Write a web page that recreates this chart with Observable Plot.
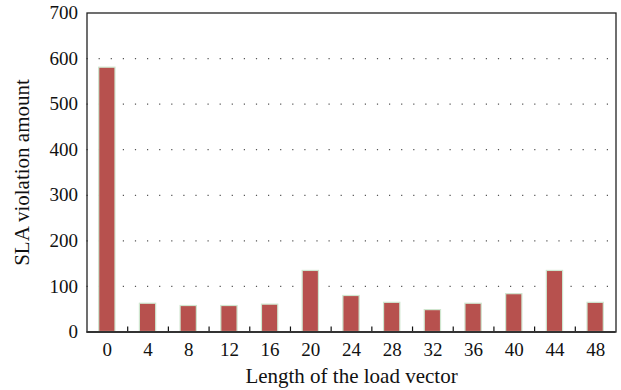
<!DOCTYPE html>
<html>
<head>
<meta charset="utf-8">
<script src="https://cdn.jsdelivr.net/npm/d3@7"></script>
<script src="https://cdn.jsdelivr.net/npm/@observablehq/plot@0.6"></script>
<style>
  html, body { margin: 0; padding: 0; background: #fff; }
  #chart svg { display: block; }
</style>
</head>
<body>
<div id="chart"></div>
<script>
const loadLengths = ["0","4","8","12","16","20","24","28","32","36","40","44","48"];
const slaViolation = [580, 62, 57, 57, 60, 134, 79, 64, 48, 62, 83, 134, 64];
const yTicks = [0, 100, 200, 300, 400, 500, 600, 700];
const xTitle = "Length of the load vector";
const yTitle = "SLA violation amount";

const data = loadLengths.map((k, i) => ({len: k, value: slaViolation[i]}));

const W = 621, H = 390;
const mL = 86.5, mR = 5.5, mT = 12.5, mB = 58.5;
const step = (W - mL - mR) / loadLengths.length;
const FS = 19;

const chart = Plot.plot({
  width: W,
  height: H,
  marginLeft: mL,
  marginRight: mR,
  marginTop: mT,
  marginBottom: mB,
  style: {fontFamily: "'Liberation Serif', serif", fontSize: FS + "px", color: "#111", background: "#fff"},
  x: {domain: loadLengths, paddingInner: 0.6, paddingOuter: 0.3, round: false, label: null},
  y: {domain: [0, 700], label: null},
  marks: [
    Plot.gridY(yTicks.filter(d => d > 0 && d < 700), {stroke: "#555", strokeOpacity: 1, strokeWidth: 1.2, strokeDasharray: "1.2,10.9"}),
    Plot.barY(data, {x: "len", y: "value", fill: "#b7514e", stroke: "#cfe6cf", strokeWidth: 1.2}),
    Plot.ruleX(loadLengths.slice(1), {x: d => d, dx: -step / 2, y1: 0, y2: 11, stroke: "#111", strokeWidth: 1.2}),
    Plot.axisX({tickSize: 0, tickPadding: 10, fontSize: FS, label: null}),
    Plot.axisY(yTicks, {tickSize: 0, tickPadding: 9, fontSize: FS, label: null}),
    Plot.text([xTitle], {text: d => d, frameAnchor: "bottom", dy: 44.5, textAnchor: "middle", lineAnchor: "middle", fontSize: 21, fill: "#111"}),
    Plot.text([yTitle], {text: d => d, frameAnchor: "left", dx: -64.5, rotate: -90, textAnchor: "middle", lineAnchor: "middle", fontSize: 21, fill: "#111"}),
    Plot.frame({stroke: "#222", strokeWidth: 1.3}),
    Plot.ruleY([0], {stroke: "#333", strokeWidth: 2})
  ]
});
document.getElementById("chart").appendChild(chart);
</script>
</body>
</html>
